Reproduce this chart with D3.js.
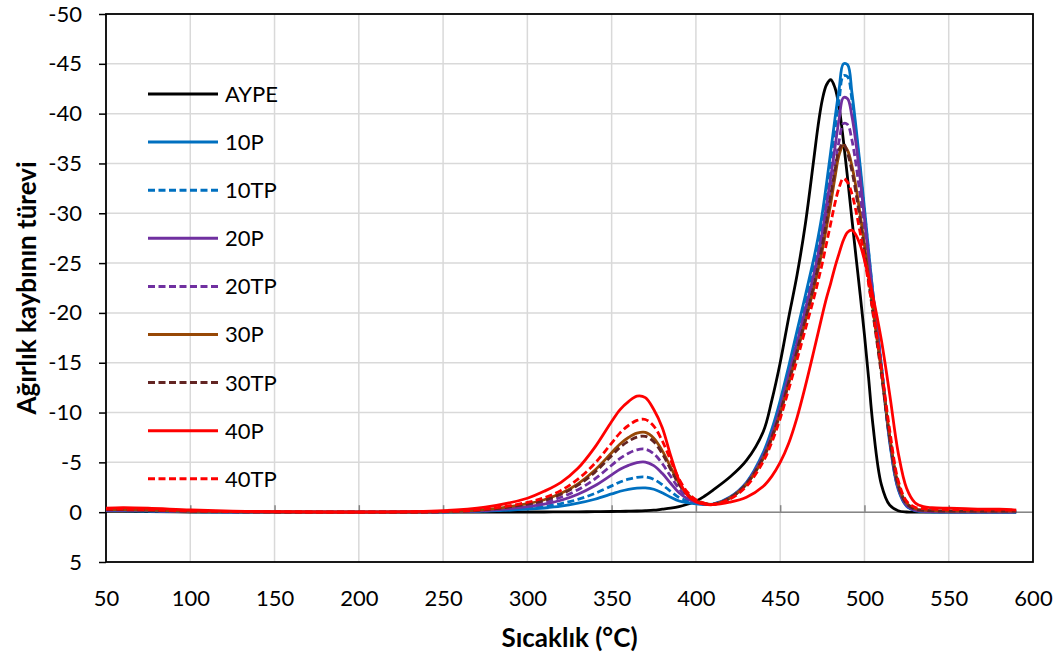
<!DOCTYPE html>
<html><head><meta charset="utf-8">
<script src="https://cdn.jsdelivr.net/npm/d3@7"></script>
<style>body{margin:0;background:#fff} text{font-family:Lato,"Open Sans",sans-serif}</style>
</head><body><svg id="c" width="1063" height="655"></svg>
<script>
const temps = [50,60,75,100,125,150,200,250,275,300,310,320,330,340,350,355,360,365,370,375,380,385,390,395,400,405,410,420,430,440,445,450,455,460,465,470,472.5,475,477.5,480,482.5,485,487.5,490,492.5,495,497.5,500,502.5,505,510,515,520,525,530,535,540,550,560,570,580,590];
const aype = [-0.1,-0.1,-0.05,-0.02,0,0,0,0,0,-0.02,-0.02,-0.03,-0.04,-0.05,-0.07,-0.08,-0.1,-0.12,-0.15,-0.2,-0.3,-0.4,-0.55,-0.8,-1.1,-1.6,-2.2,-3.5,-5.2,-8.1,-11.2,-15.0,-19.5,-23.8,-29.0,-35.5,-38.8,-41.4,-42.9,-43.4,-42.6,-40.6,-37.3,-33.5,-29.5,-25.6,-21.8,-17.8,-13.4,-8.8,-2.8,-0.7,-0.15,-0.02,0,0,0,0,0,0,0,0];
const p10 = [-0.15,-0.15,-0.1,-0.05,-0.02,0,0,-0.03,-0.1,-0.3,-0.42,-0.6,-0.9,-1.3,-1.83,-2.1,-2.3,-2.42,-2.44,-2.3,-1.95,-1.5,-1.12,-0.96,-0.84,-0.77,-0.8,-1.5,-3.0,-6.0,-8.3,-11.2,-14.6,-18.2,-21.8,-25.5,-27.6,-30.0,-33.0,-36.2,-39.5,-42.5,-45.0,-44.9,-42.2,-38.6,-34.7,-30.5,-26.2,-22.0,-14.8,-7.0,-2.3,-0.6,-0.15,-0.05,-0.02,0,0,0,0,0];
const tp10 = [-0.15,-0.15,-0.1,-0.05,-0.02,0,0,-0.03,-0.13,-0.4,-0.58,-0.86,-1.28,-1.87,-2.64,-3.03,-3.31,-3.5,-3.53,-3.29,-2.76,-2.09,-1.47,-1.13,-0.91,-0.79,-0.78,-1.45,-2.9,-5.8,-8.0,-10.8,-14.1,-17.6,-21.1,-24.7,-26.8,-29.2,-32.1,-35.2,-38.4,-41.4,-43.8,-43.7,-41.5,-38.0,-34.2,-30.2,-26.0,-22.0,-14.8,-7.2,-2.4,-0.65,-0.2,-0.08,-0.05,-0.03,-0.02,-0.02,-0.02,-0.02];
const p20 = [-0.2,-0.2,-0.15,-0.08,-0.04,-0.02,0,-0.04,-0.17,-0.55,-0.8,-1.2,-1.8,-2.65,-3.75,-4.3,-4.7,-4.98,-5.03,-4.67,-3.9,-2.9,-1.95,-1.35,-1.0,-0.82,-0.78,-1.45,-2.9,-5.7,-7.8,-10.5,-13.7,-17.0,-20.4,-23.9,-25.9,-28.1,-30.8,-33.6,-36.6,-39.5,-41.6,-41.5,-39.8,-37.0,-33.4,-29.5,-25.5,-21.6,-14.6,-7.3,-2.5,-0.7,-0.2,-0.1,-0.06,-0.04,-0.03,-0.03,-0.03,-0.03];
const tp20 = [-0.2,-0.2,-0.15,-0.08,-0.04,-0.02,0,-0.04,-0.21,-0.68,-1.0,-1.5,-2.25,-3.33,-4.71,-5.4,-5.91,-6.26,-6.32,-5.87,-4.89,-3.6,-2.37,-1.55,-1.08,-0.85,-0.78,-1.4,-2.85,-5.6,-7.6,-10.2,-13.3,-16.5,-19.8,-23.1,-25.0,-27.0,-29.4,-32.0,-34.7,-37.3,-39.0,-38.9,-37.4,-34.9,-31.7,-28.2,-24.6,-21.0,-14.4,-7.4,-2.6,-0.75,-0.25,-0.12,-0.08,-0.05,-0.04,-0.04,-0.04,-0.04];
const p30 = [-0.25,-0.25,-0.2,-0.1,-0.05,-0.02,0,-0.05,-0.26,-0.85,-1.25,-1.89,-2.85,-4.21,-5.97,-6.85,-7.49,-7.93,-8.01,-7.43,-6.18,-4.52,-2.91,-1.8,-1.18,-0.88,-0.78,-1.4,-2.8,-5.4,-7.4,-9.9,-12.9,-16.0,-19.2,-22.5,-24.3,-26.3,-28.6,-31.0,-33.6,-35.9,-36.8,-36.3,-34.8,-32.6,-29.8,-26.8,-23.6,-20.4,-14.2,-7.6,-2.8,-0.9,-0.35,-0.2,-0.15,-0.12,-0.1,-0.1,-0.1,-0.1];
const tp30 = [-0.25,-0.25,-0.2,-0.1,-0.05,-0.02,0,-0.05,-0.25,-0.81,-1.19,-1.8,-2.71,-4.0,-5.67,-6.51,-7.12,-7.54,-7.61,-7.06,-5.88,-4.3,-2.78,-1.74,-1.16,-0.87,-0.78,-1.4,-2.85,-5.5,-7.5,-10.0,-13.0,-16.2,-19.4,-22.8,-24.7,-26.8,-29.2,-31.8,-34.3,-36.4,-37.0,-36.0,-34.3,-32.0,-29.2,-26.2,-23.1,-20.0,-13.9,-7.4,-2.7,-0.85,-0.3,-0.18,-0.13,-0.1,-0.1,-0.1,-0.1,-0.1];
const p40 = [-0.4,-0.45,-0.4,-0.22,-0.1,-0.05,-0.02,-0.15,-0.5,-1.4,-2.1,-3.0,-4.4,-6.5,-9.1,-10.3,-11.1,-11.65,-11.5,-10.3,-8.5,-5.7,-3.2,-1.7,-1.05,-0.8,-0.75,-1.0,-1.5,-2.6,-3.6,-5.0,-6.9,-9.5,-12.7,-16.2,-18.0,-19.8,-21.5,-23.0,-24.6,-26.0,-27.3,-28.1,-28.3,-27.8,-26.8,-25.3,-23.6,-21.7,-17.3,-11.8,-6.0,-2.4,-0.95,-0.55,-0.45,-0.4,-0.35,-0.3,-0.3,-0.2];
const tp40 = [-0.3,-0.3,-0.25,-0.12,-0.06,-0.03,-0.01,-0.06,-0.3,-0.98,-1.45,-2.19,-3.31,-4.89,-6.93,-7.96,-8.7,-9.21,-9.3,-8.63,-7.17,-5.22,-3.33,-2.0,-1.26,-0.91,-0.78,-1.3,-2.6,-5.1,-7.0,-9.4,-12.3,-15.3,-18.4,-21.5,-23.2,-25.0,-27.0,-29.0,-31.0,-32.6,-33.5,-33.1,-32.0,-30.2,-28.0,-25.5,-22.9,-20.2,-14.5,-8.2,-3.2,-1.1,-0.5,-0.35,-0.3,-0.27,-0.25,-0.22,-0.2,-0.2];

const seriesNames = ["AYPE","10P","10TP","20P","20TP","30P","30TP","40P","40TP"];
const seriesValues = [aype,p10,tp10,p20,tp20,p30,tp30,p40,tp40];
const seriesColors = ["#000000","#0070C0","#0070C0","#7030A0","#7030A0","#974806","#632523","#FF0000","#FF0000"];
const seriesDashed = [false,false,true,false,true,false,true,false,true];

const xTicks = [50,100,150,200,250,300,350,400,450,500,550,600];
const xTickLabels = ["50","100","150","200","250","300","350","400","450","500","550","600"];
const yTicks = [-50,-45,-40,-35,-30,-25,-20,-15,-10,-5,0,5];
const yTickLabels = ["-50","-45","-40","-35","-30","-25","-20","-15","-10","-5","0","5"];

const L=106,R=1033,T=14,B=562;
const FONT = "Lato, 'Open Sans', sans-serif";
const svg = d3.select("#c");
const x = d3.scaleLinear().domain([50,600]).range([L,R]);
const y = d3.scaleLinear().domain([-50,5]).range([T,B]);

// gridlines
const g = svg.append("g");
g.selectAll(".vg").data(xTicks.slice(1,-1)).enter().append("line")
  .attr("x1",d=>x(d)).attr("x2",d=>x(d)).attr("y1",T).attr("y2",B)
  .attr("stroke","#d9d9d9").attr("stroke-width",1.5);
g.selectAll(".hg").data(yTicks.slice(1,-1)).enter().append("line")
  .attr("x1",L).attr("x2",R).attr("y1",d=>y(d)).attr("y2",d=>y(d))
  .attr("stroke","#d9d9d9").attr("stroke-width",1.5);

// zero axis with ticks upward
const zx = svg.append("g").attr("transform",`translate(0,${y(0)})`)
  .call(d3.axisTop(x).tickValues(xTicks.slice(1,-1)).tickSize(7).tickFormat(""));
zx.select(".domain").remove();
zx.selectAll(".tick line").attr("stroke","#868686").attr("stroke-width",1.5);
svg.append("line").attr("x1",L).attr("x2",R).attr("y1",y(0)).attr("y2",y(0))
  .attr("stroke","#868686").attr("stroke-width",1.5);

// x labels
const xa = svg.append("g").attr("transform",`translate(0,${B})`)
  .call(d3.axisBottom(x).tickValues(xTicks).tickSize(0).tickPadding(28).tickFormat((d,i)=>xTickLabels[i]));
xa.select(".domain").remove();
xa.selectAll("text").attr("font-size",22).attr("fill","#000").style("font-family",FONT);

// y axis
const ya = svg.append("g").attr("transform",`translate(${L},0)`)
  .call(d3.axisLeft(y).tickValues(yTicks).tickSize(7).tickPadding(17).tickFormat((d,i)=>yTickLabels[i]));
ya.select(".domain").remove();
ya.selectAll(".tick line").attr("stroke","#000").attr("stroke-width",1.5);
ya.selectAll("text").attr("font-size",22).attr("fill","#000").style("font-family",FONT);

// border
svg.append("rect").attr("x",L).attr("y",T).attr("width",R-L).attr("height",B-T)
  .attr("fill","none").attr("stroke","#000").attr("stroke-width",1.8);

// series
const line = d3.line().x((d,i)=>x(temps[i])).y(d=>y(d)).curve(d3.curveCatmullRom.alpha(0.5));
seriesValues.forEach((vals,k)=>{
  svg.append("path").datum(vals).attr("d",line).attr("fill","none")
    .attr("stroke",seriesColors[k]).attr("stroke-width",2.8)
    .attr("stroke-dasharray",seriesDashed[k]?"7,3.5":null);
});

// legend
const lg = svg.append("g");
seriesNames.forEach((n,k)=>{
  const ly = 94 + k*48.1;
  lg.append("line").attr("x1",148).attr("x2",218).attr("y1",ly).attr("y2",ly)
    .attr("stroke",seriesColors[k]).attr("stroke-width",3)
    .attr("stroke-dasharray",seriesDashed[k]?"7,3.5":null);
  lg.append("text").attr("x",225).attr("y",ly).attr("dy","0.36em")
    .attr("font-size",22).text(n);
});

// titles
svg.append("text").attr("x",(L+R)/2).attr("y",647).attr("text-anchor","middle")
  .attr("font-size",26).attr("font-weight","bold").text("Sıcaklık (°C)");
svg.append("text").attr("transform",`translate(27,${(T+B)/2}) rotate(-90)`)
  .attr("text-anchor","middle").attr("dy","0.35em")
  .attr("font-size",26).attr("font-weight","bold").text("Ağırlık kaybının türevi");
</script></body></html>
